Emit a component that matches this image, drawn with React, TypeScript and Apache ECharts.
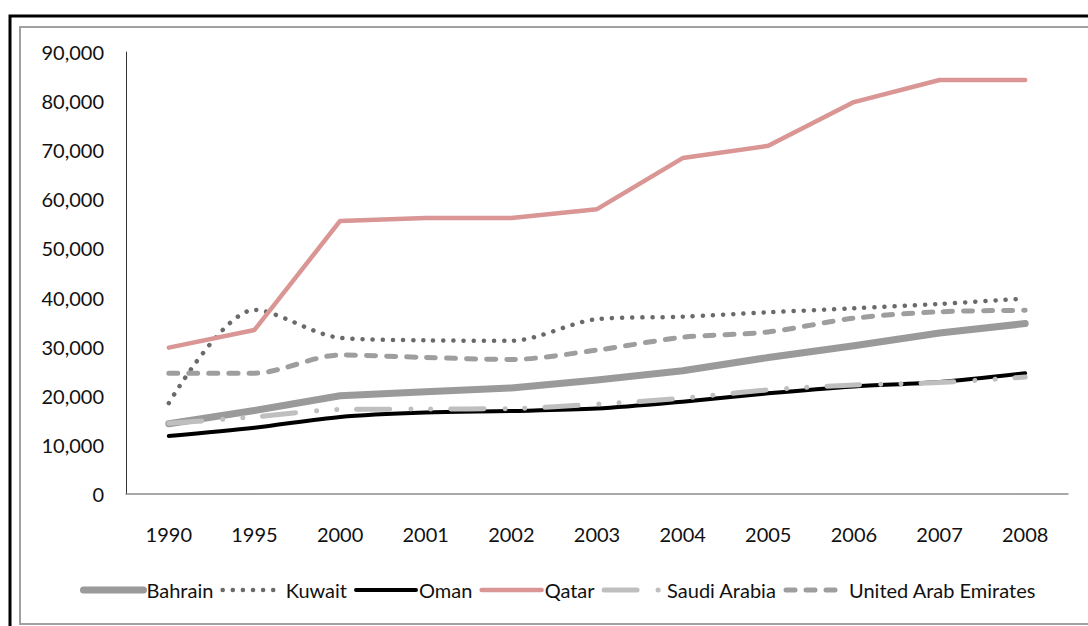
import React, { useEffect, useRef } from "react";
import * as echarts from "echarts";

const years = ["1990", "1995", "2000", "2001", "2002", "2003", "2004", "2005", "2006", "2007", "2008"];
const bahrain = [14300, 17000, 20000, 20800, 21600, 23200, 25100, 27800, 30200, 32800, 34700];
const kuwait = [18500, 37500, 31800, 31300, 31200, 35600, 36100, 37000, 37800, 38700, 39800];
const oman = [11800, 13500, 15700, 16600, 16900, 17400, 18800, 20500, 21900, 22800, 24600];
const qatar = [29800, 33400, 55600, 56200, 56200, 58000, 68400, 70900, 79800, 84300, 84300];
const saudi = [14400, 15700, 17200, 17300, 17400, 18300, 19500, 21200, 22200, 22700, 23800];
const uae = [24600, 24600, 28300, 27800, 27400, 29300, 31900, 33000, 35800, 37100, 37400];

const FONT = "Lato, 'Open Sans', sans-serif";

export default function App() {
  const ref = useRef<HTMLDivElement>(null);
  useEffect(() => {
    if (!ref.current) return;
    const chart = echarts.init(ref.current, null, { renderer: "svg" });
    const mk = (name: string, data: number[], color: string, width: number, type: any, smooth: number | boolean) => ({
      name,
      type: "line",
      data,
      symbol: "none",
      showSymbol: false,
      smooth,
      lineStyle: { color, width, type, cap: "round", join: "round" },
      itemStyle: { color },
    });
    chart.setOption({
      animation: false,
      backgroundColor: "#fff",
      textStyle: { fontFamily: FONT },
      grid: { left: 126, right: 20, top: 52, bottom: 132, containLabel: false },
      xAxis: {
        type: "category",
        data: years,
        boundaryGap: true,
        axisLine: { show: true, lineStyle: { color: "#8c8c8c", width: 1.5 } },
        axisTick: { show: false },
        axisLabel: { color: "#111", fontSize: 20, fontFamily: FONT, margin: 30 },
        splitLine: { show: false },
      },
      yAxis: {
        type: "value",
        min: 0,
        max: 90000,
        interval: 10000,
        axisLine: { show: true, lineStyle: { color: "#333", width: 1 } },
        axisTick: { show: false },
        splitLine: { show: false },
        axisLabel: {
          color: "#111",
          fontSize: 20,
          fontFamily: FONT,
          margin: 22,
          formatter: (v: number) => v.toLocaleString("en-US"),
        },
      },
      legend: {
        left: 75,
        top: 575,
        itemWidth: 60,
        itemHeight: 22,
        itemGap: 7,
        itemStyle: { opacity: 0, borderWidth: 0 },
        lineStyle: { width: "inherit", type: "inherit", cap: "inherit", color: "inherit", opacity: 1 },
        textStyle: { color: "#111", fontSize: 20, fontFamily: FONT, padding: [0, 0, 0, -2] },
        data: ["Bahrain", "Kuwait", "Oman", "Qatar", "Saudi Arabia", "United Arab Emirates"],
      },
      graphic: [
        {
          type: "rect",
          shape: { x: 10, y: 16, width: 1200, height: 700 },
          style: { fill: "none", stroke: "#000", lineWidth: 3 },
          silent: true,
        },
        {
          type: "rect",
          shape: { x: 20, y: 27, width: 1200, height: 597 },
          style: { fill: "none", stroke: "#a0a0a0", lineWidth: 2 },
          silent: true,
        },
      ],
      series: [
        mk("Bahrain", bahrain, "#9a9a9a", 7, "solid", false),
        mk("Kuwait", kuwait, "#6a6a6a", 4.5, [0.1, 10], 0.3),
        mk("Oman", oman, "#000000", 4, "solid", 0.3),
        mk("Qatar", qatar, "#d99694", 4.5, "solid", false),
        mk("Saudi Arabia", saudi, "#bfbfbf", 5, [33, 21, 0.1, 20, 0.1, 20], 0.3),
        mk("United Arab Emirates", uae, "#9e9e9e", 5, [9, 11], 0.3),
      ],
    });
    return () => chart.dispose();
  }, []);
  return (
    <div
      ref={ref}
      style={{ position: "absolute", left: 0, top: 0, width: 1088, height: 626, overflow: "hidden" }}
    />
  );
}
